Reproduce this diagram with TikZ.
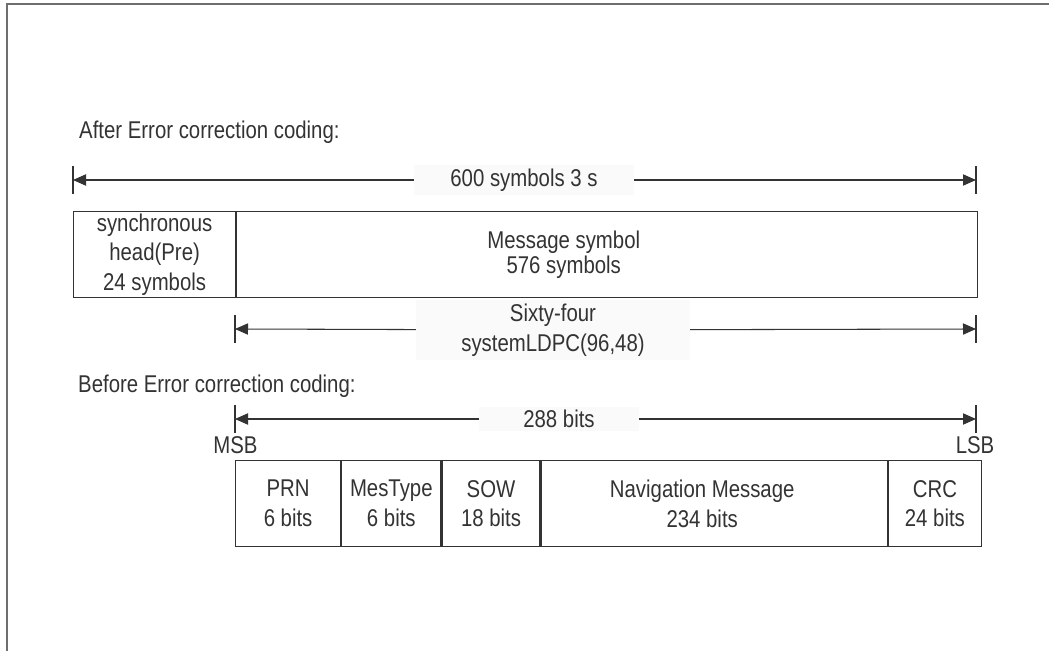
\documentclass[tikz,border=0pt]{standalone}
\usepackage{fontspec}
\setmainfont{Liberation Sans}[FakeStretch=0.84]
\usetikzlibrary{arrows.meta,positioning}
\definecolor{inkgray}{HTML}{333333}
\definecolor{framegray}{HTML}{6E6E6E}

\begin{document}
\begin{tikzpicture}[x=0.02cm, y=-0.02cm,
    every node/.style={text=inkgray, font=\fontsize{13.8}{17}\selectfont},
    field/.style={draw=inkgray, line width=0.7pt, minimum height=1.72cm, inner sep=1pt, align=center, anchor=north west},
    fieldtext/.style={inner sep=1pt, align=center},
    dimline/.style={draw=inkgray, line width=0.6pt, -{Triangle[length=7.4pt,width=6.4pt]}},
    tickline/.style={draw=inkgray, line width=0.6pt},
    dimlabel/.style={fill=black!2, inner ysep=2pt, align=center},
    heading/.style={anchor=base west}]
  \useasboundingbox (0,0) rectangle (1049,651);

  % Open frame along the left and top edges
  \draw[framegray, line width=1pt] (7,651) -- (7,4) -- (1049,4);

  % After error correction coding
  \node[heading] (after) at (73,139) {After Error correction coding:};

  \coordinate (fullL) at (73,180);
  \coordinate (fullR) at (976,180);
  \draw[tickline] (fullL) ++(0,-14) -- ++(0,28);
  \draw[tickline] (fullR) ++(0,-14) -- ++(0,28);
  \node[dimlabel, inner xsep=0.72cm] (fulllbl) at (524,180) {600 symbols 3 s};
  \draw[dimline] (fulllbl) -- (fullL);
  \draw[dimline] (fulllbl) -- (fullR);

  \node[field, minimum width=3.24cm] (sync) at (73,211) {synchronous\\head(Pre)\\24 symbols};
  \node[field, minimum width=14.82cm, right=0pt of sync] (msg) {};
  \node[fieldtext, font=\fontsize{13.8}{14.2}\selectfont] (msgtext) at ([xshift=-0.87cm]msg.center) {Message symbol\\576 symbols};

  \coordinate (ldpcL) at (235,329);
  \coordinate (ldpcR) at (976,329);
  \draw[tickline] (ldpcL) ++(0,-14) -- ++(0,28);
  \draw[tickline] (ldpcR) ++(0,-14) -- ++(0,28);
  \node[dimlabel, inner xsep=0.9cm] (ldpclbl) at (553,330) {Sixty-four\\systemLDPC(96,48)};
  \draw[dimline] (ldpclbl) -- (ldpcL);
  \draw[dimline] (ldpclbl) -- (ldpcR);

  % Before error correction coding
  \node[heading] (before) at (72,393) {Before Error correction coding:};

  \coordinate (bitsL) at (235,419);
  \coordinate (bitsR) at (976,419);
  \draw[tickline] (bitsL) ++(0,-14) -- ++(0,28);
  \draw[tickline] (bitsR) ++(0,-14) -- ++(0,28);
  \node[dimlabel, inner xsep=0.88cm] (bitslbl) at (559,419) {288 bits};
  \draw[dimline] (bitslbl) -- (bitsL);
  \draw[dimline] (bitslbl) -- (bitsR);

  \node[anchor=base] (msb) at (235.5,454) {MSB};
  \node[anchor=base] (lsb) at (975,454) {LSB};

  \node[field, minimum width=2.1cm] (prn) at (235,460) {PRN\\6 bits};
  \node[field, minimum width=1.98cm, right=0pt of prn] (mestype) {MesType\\6 bits};
  \node[field, minimum width=1.96cm, right=0pt of mestype] (sow) {SOW\\18 bits};
  \node[field, minimum width=6.92cm, right=0pt of sow] (nav) {};
  \node[fieldtext] (navtext) at ([xshift=-0.24cm]nav.center) {Navigation Message\\234 bits};
  \node[field, minimum width=1.86cm, right=0pt of nav] (crc) {CRC\\24 bits};
\end{tikzpicture}
\end{document}
